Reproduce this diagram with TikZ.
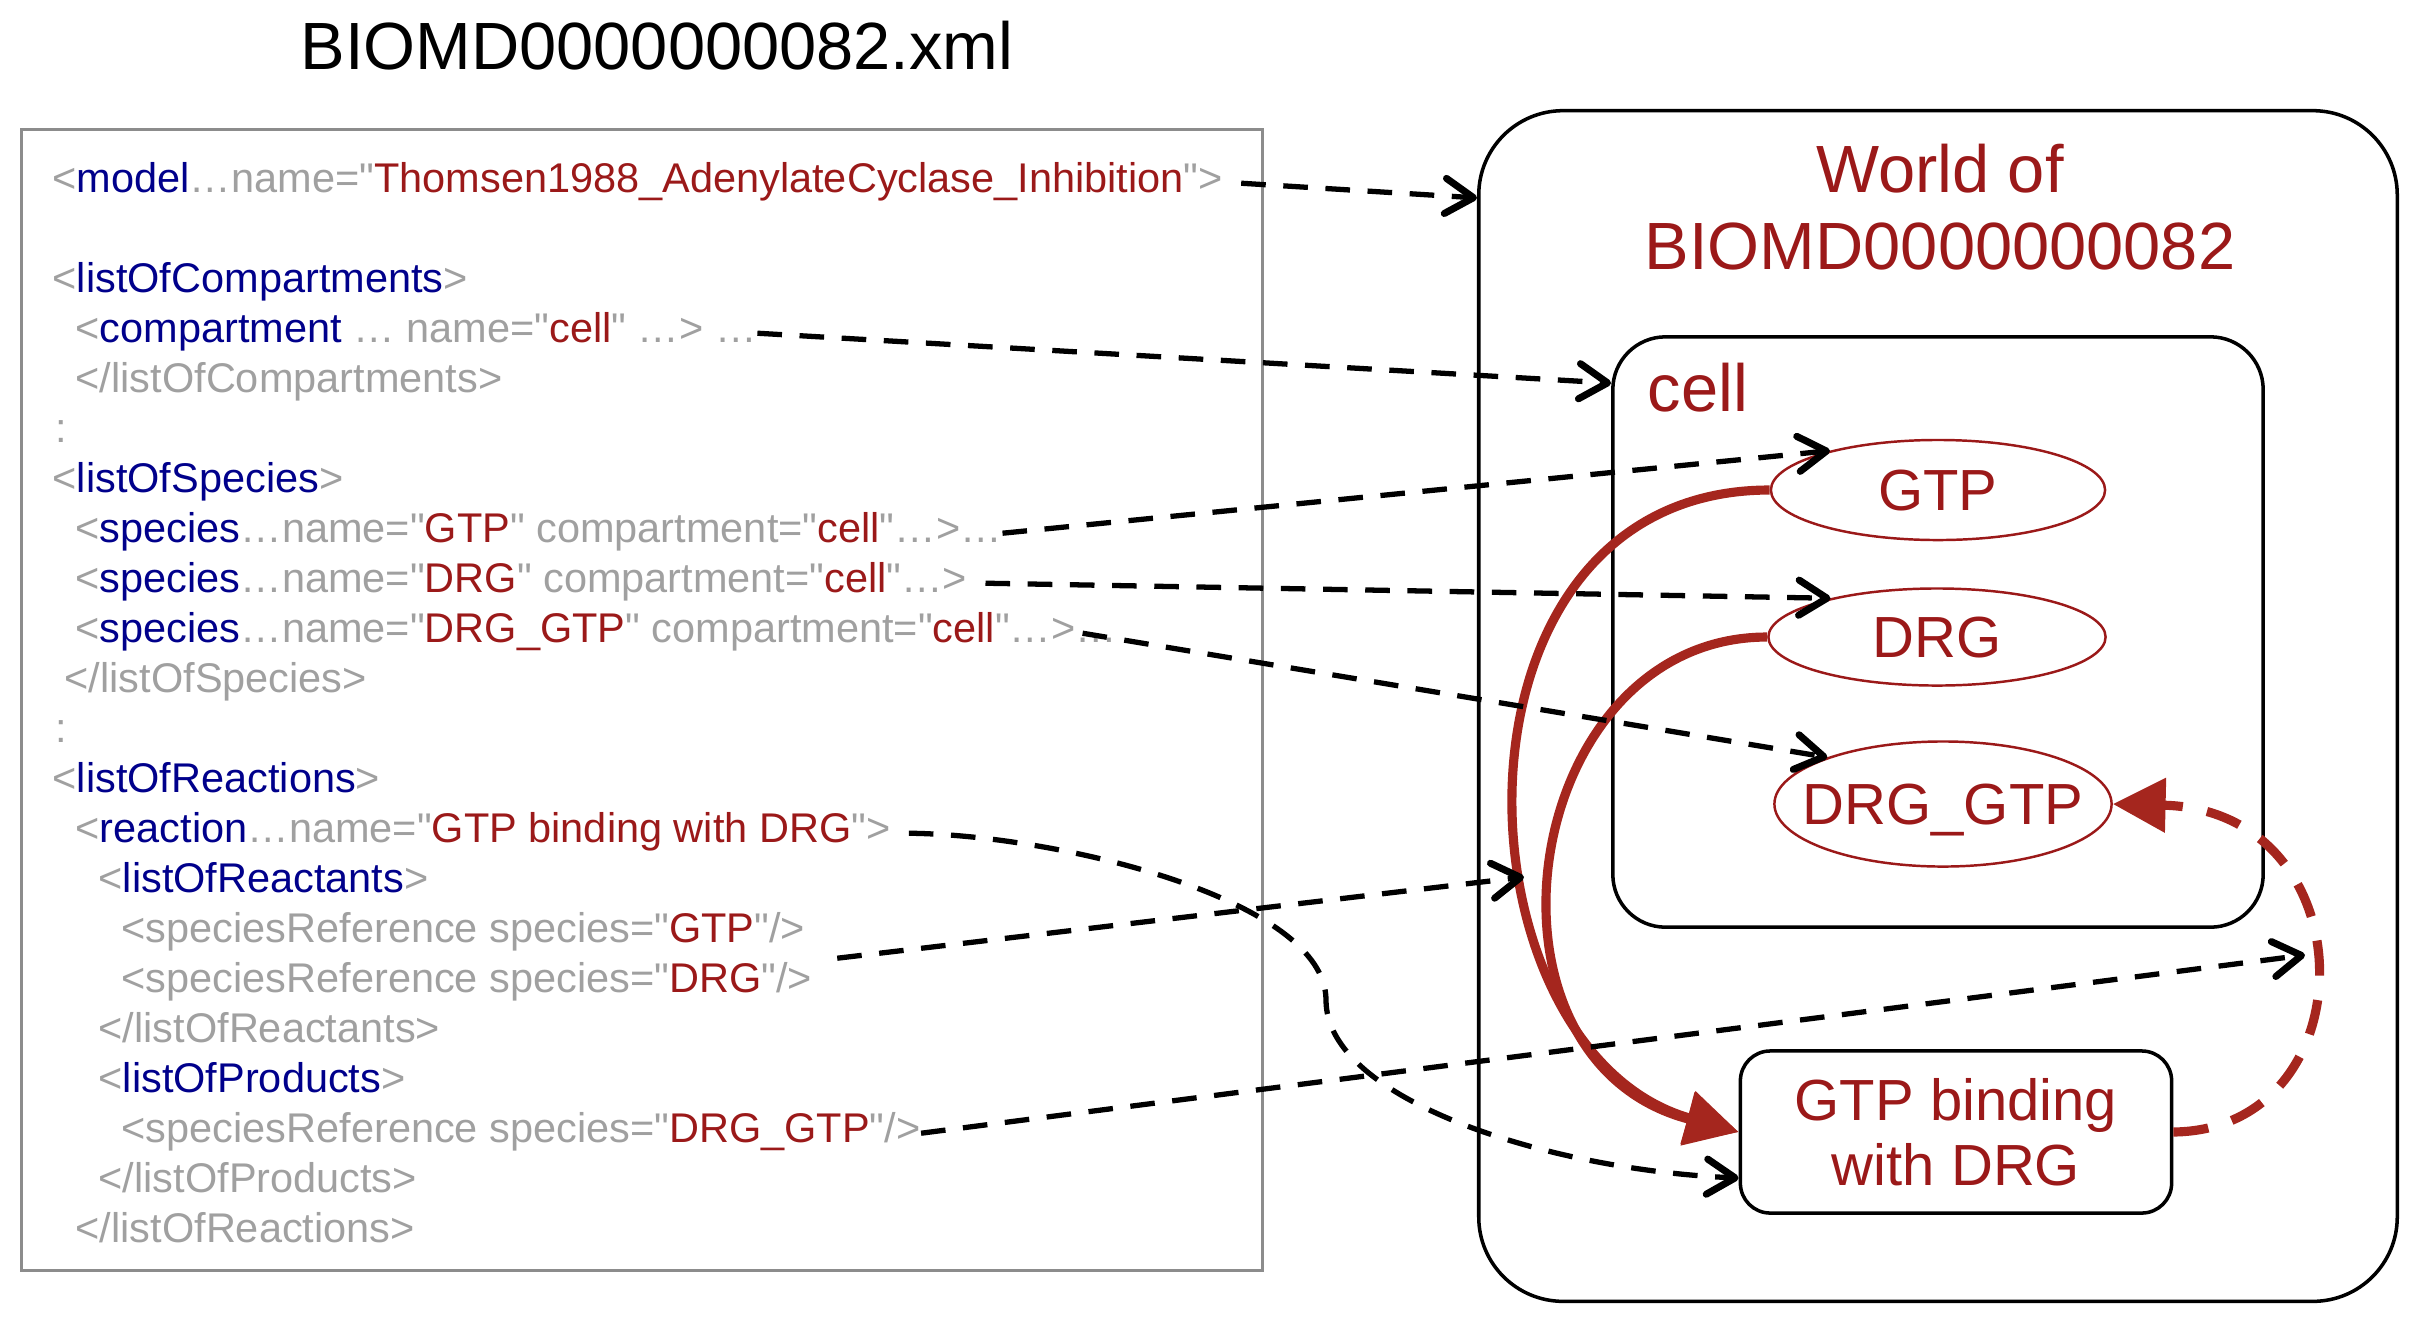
\documentclass[tikz,border=0pt]{standalone}
\usepackage{fontspec}
\setmainfont{Liberation Sans}
\newfontfamily\xmlfont{Liberation Sans}
\usetikzlibrary{arrows.meta,shapes.geometric,calc}
\definecolor{tagblue}{RGB}{0,0,139}
\definecolor{attrgray}{RGB}{160,160,160}
\definecolor{valred}{RGB}{155,25,25}
\definecolor{arcred}{RGB}{165,38,30}
\definecolor{framegray}{RGB}{140,140,140}
\newcommand{\xtag}[1]{\textcolor{tagblue}{#1}}
\newcommand{\xgr}[1]{\textcolor{attrgray}{#1}}
\newcommand{\xval}[1]{\textcolor{valred}{#1}}

\begin{document}
\begin{tikzpicture}[x = 0.01cm, y = -0.01cm]
\tikzstyle{XmlLine}=[
anchor = base west,
inner sep = 0pt,
text height = 0.75em,
text depth = 0.25em,
font = \fontsize{11.8}{14}\xmlfont]
\tikzstyle{SpeciesStyle}=[
shape = ellipse,
draw = valred,
line width = 0.7pt,
inner sep = 0pt,
text depth = 0pt,
text = valred,
font = \fontsize{16.5}{18}\selectfont]
\tikzstyle{MapStyle}=[
line width = 1.5pt,
dash pattern = on 7pt off 5pt,
-{Straight Barb[length = 8pt, width = 10pt, line width = 2pt, round]}]
\tikzstyle{ArcStyle}=[
draw = arcred,
line width = 2.6pt,
-{Triangle[length = 15pt, width = 15pt]}]
\useasboundingbox (0,0) rectangle (2414,1320);
\node[font = \fontsize{19}{22}\selectfont] (title) at (657,46) {BIOMD0000000082.xml};
\node[draw = framegray, line width = 0.8pt, minimum width = 12.4cm, minimum height = 11.41cm] (xmlbox) at (642,700) {};
\node[XmlLine] (model) at (52,192) {\xgr{<}\xtag{model}\xgr{…name="}\xval{Thomsen1988\_AdenylateCyclase\_Inhibition}\xgr{">}};
\node[XmlLine] (loc) at (52,292) {\xgr{<}\xtag{listOfCompartments}\xgr{>}};
\node[XmlLine] (comp) at (75,342) {\xgr{<}\xtag{compartment}\xgr{\ … name="}\xval{cell}\xgr{" …> …}};
\node[XmlLine] (locend) at (75,392) {\xgr{</listOfCompartments>}};
\node[XmlLine] (dots1) at (55,442) {\xgr{:}};
\node[XmlLine] (los) at (52,492) {\xgr{<}\xtag{listOfSpecies}\xgr{>}};
\node[XmlLine] (spgtp) at (75,542) {\xgr{<}\xtag{species}\xgr{…name="}\xval{GTP}\xgr{" compartment="}\xval{cell}\xgr{"…>…}};
\node[XmlLine] (spdrg) at (75,592) {\xgr{<}\xtag{species}\xgr{…name="}\xval{DRG}\xgr{" compartment="}\xval{cell}\xgr{"…>}};
\node[XmlLine] (spdrggtp) at (75,642) {\xgr{<}\xtag{species}\xgr{…name="}\xval{DRG\_GTP}\xgr{" compartment="}\xval{cell}\xgr{"…>…}};
\node[XmlLine] (losend) at (64,692) {\xgr{</listOfSpecies>}};
\node[XmlLine] (dots2) at (55,742) {\xgr{:}};
\node[XmlLine] (lor) at (52,792) {\xgr{<}\xtag{listOfReactions}\xgr{>}};
\node[XmlLine] (reac) at (75,842) {\xgr{<}\xtag{reaction}\xgr{…name="}\xval{GTP binding with DRG}\xgr{">}};
\node[XmlLine] (lorc) at (98,892) {\xgr{<}\xtag{listOfReactants}\xgr{>}};
\node[XmlLine] (refgtp) at (121,942) {\xgr{<speciesReference species="}\xval{GTP}\xgr{"/>}};
\node[XmlLine] (refdrg) at (121,992) {\xgr{<speciesReference species="}\xval{DRG}\xgr{"/>}};
\node[XmlLine] (lorcend) at (98,1042) {\xgr{</listOfReactants>}};
\node[XmlLine] (lop) at (98,1092) {\xgr{<}\xtag{listOfProducts}\xgr{>}};
\node[XmlLine] (refdrggtp) at (121,1142) {\xgr{<speciesReference species="}\xval{DRG\_GTP}\xgr{"/>}};
\node[XmlLine] (lopend) at (98,1192) {\xgr{</listOfProducts>}};
\node[XmlLine] (lorend) at (75,1242) {\xgr{</listOfReactions>}};
\node[draw, line width = 1pt, rounded corners = 24pt, minimum width = 9.18cm, minimum height = 11.9cm] (world) at (1938,706) {};
\node[text = valred, align = center, font = \fontsize{19}{21.9}\selectfont] (worldlabel) at (1940,207) {World of\\BIOMD0000000082};
\node[draw, line width = 1pt, rounded corners = 15pt, minimum width = 6.5cm, minimum height = 5.9cm] (cell) at (1938,632) {};
\node[anchor = west, inner sep = 0pt, text = valred, font = \fontsize{19}{22}\selectfont] (celllabel) at (1647,388) {cell};
\node[SpeciesStyle, minimum width = 3.34cm, minimum height = 1cm] (gtp) at (1938,490) {GTP};
\node[SpeciesStyle, minimum width = 3.37cm, minimum height = 0.97cm] (drg) at (1937,637) {DRG};
\node[SpeciesStyle, minimum width = 3.37cm, minimum height = 1.25cm] (drggtp) at (1943,804) {\makebox[0pt]{DRG\_GTP}};
\node[draw, line width = 1pt, rounded corners = 8.5pt, minimum width = 4.31cm, minimum height = 1.62cm, align = center, text = valred, font = \fontsize{16.5}{18.5}\selectfont] (rxn) at (1956,1132) {GTP binding\\with DRG};
\draw[ArcStyle] (gtp.west) .. controls (1430,490) and (1450,1050) .. (rxn.west);
\draw[ArcStyle] (drg.west) .. controls (1520,637) and (1460,1060) .. (rxn.west);
\draw[ArcStyle, dash pattern = on 10pt off 7pt] (rxn.east) .. controls (2370,1130) and (2370,810) .. (drggtp.east);
\coordinate (reacpt) at (1524,877);
\coordinate (prodpt) at (2305,955);
\draw[MapStyle] ([xshift = 5pt]model.east) -- ($(world.north west)+(0,89)$);
\draw[MapStyle] (comp.east) -- ($(cell.north west)+(0,48)$);
\draw[MapStyle] (spgtp.east) -- (gtp.160);
\draw[MapStyle] ([xshift = 5pt]spdrg.east) -- (drg.160);
\draw[MapStyle] ([xshift = -10pt]spdrggtp.east) -- (drggtp.158);
\draw[MapStyle] ([xshift = 5pt]reac.east) .. controls (1060,835) and (1326,900) .. (1326,1000) .. controls (1326,1100) and (1550,1170) .. ($(rxn.west)+(0,46)$);
\draw[MapStyle] ($(refgtp.east)!0.5!(refdrg.east)+(28,0)$) -- (reacpt);
\draw[MapStyle] (refdrggtp.east) -- (prodpt);
\end{tikzpicture}
\end{document}
